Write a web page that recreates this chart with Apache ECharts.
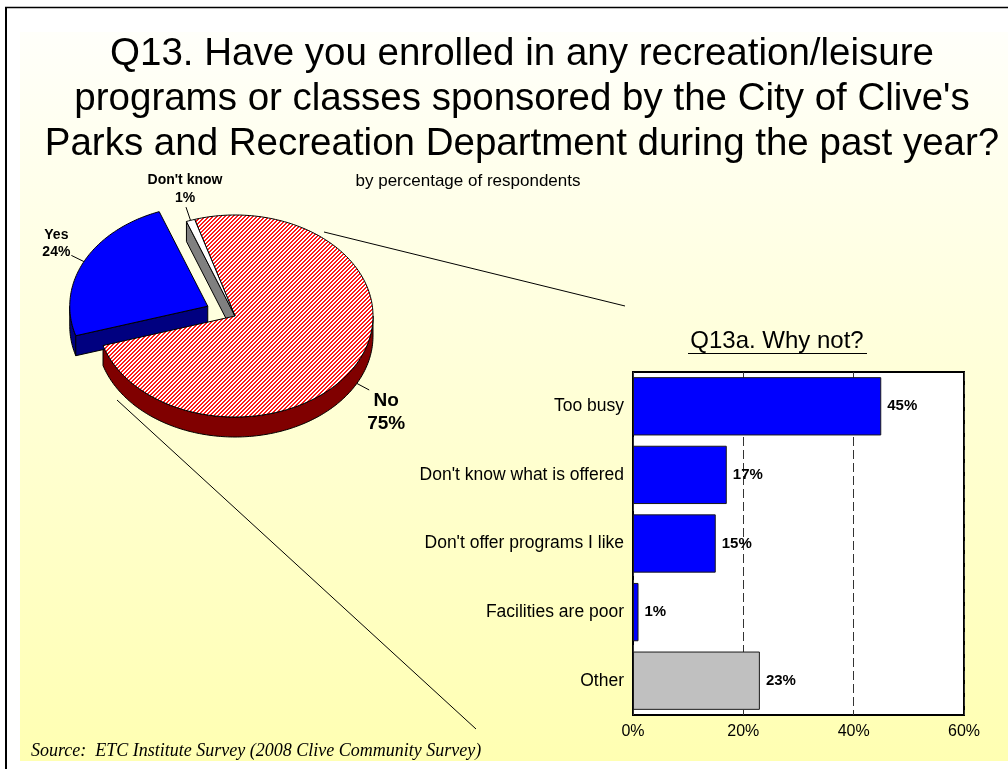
<!DOCTYPE html>
<html>
<head>
<meta charset="utf-8">
<script src="https://cdn.jsdelivr.net/npm/echarts@6/dist/echarts.min.js"></script>
<style>
  html, body { margin: 0; padding: 0; background: #ffffff; }
  #chart { width: 1008px; height: 769px; }
</style>
</head>
<body>
<div id="chart"></div>
<script>
// Q13: enrolled in a recreation program during the past year (% of respondents)
const pieLabels = ['No', 'Yes', "Don't know"];
const pieValues = [75, 24, 1];

// Q13a: reasons for not enrolling (% of respondents)
const reasonLabels = ['Too busy', "Don't know what is offered", "Don't offer programs I like", 'Facilities are poor', 'Other'];
const reasonValues = [45, 17, 15, 1, 23];

// Horizontal axis ticks (percent)
const axisTicks = [0, 20, 40, 60];

const SANS = 'Arial, "Liberation Sans", Helvetica, sans-serif';
const SERIF = '"Times New Roman", "Liberation Serif", serif';

// ---- 3D pie geometry (ellipse seen at a tilt, with a thickness) ----
const PIE = {
  cx: 235, cy: 316,      // centre of the top face
  rx: 138, ry: 101,      // ellipse radii of the top face
  depth: 20,             // thickness of the disc
  startDeg: -17,         // where the first slice begins, clockwise from 12 o'clock
  explode: [0, 0.22, 0]  // fraction of the radius each slice is pulled out
};
const pieStyle = [
  { top: null,      side: '#800000', font: 19, lineH: 23, shift: [17, 22] },  // No (hatched top)
  { top: '#0000ff', side: '#000080', font: 14, lineH: 17, shift: [-15, -12] }, // Yes
  { top: '#ffffff', side: '#808080', font: 14, lineH: 18, shift: [-1, -18] }   // Don't know
];

// Red diagonal hatching used on the "No" slice
function makeHatch() {
  const c = document.createElement('canvas');
  c.width = 4; c.height = 4;
  const g = c.getContext('2d');
  g.fillStyle = '#ffffff';
  g.fillRect(0, 0, 4, 4);
  g.fillStyle = '#ff1a1a';
  for (let x = 0; x < 4; x++) {
    for (let y = 0; y < 4; y++) {
      const k = (x + y) % 4;
      if (k === 0 || k === 1) g.fillRect(x, y, 1, 1);
    }
  }
  return c;
}
const hatchFill = { image: makeHatch(), repeat: 'repeat' };

// Slice angle ranges from the values
const pieTotal = pieValues.reduce((a, b) => a + b, 0);
const pieAngles = [];
(function () {
  let acc = PIE.startDeg;
  pieValues.forEach(v => {
    const s = acc;
    acc += v / pieTotal * 360;
    pieAngles.push([s, acc]);
  });
})();

function ellipsePt(cx, cy, deg, dy) {
  const r = deg * Math.PI / 180;
  return [cx + PIE.rx * Math.sin(r), cy - PIE.ry * Math.cos(r) + (dy || 0)];
}
function arcPts(cx, cy, a0, a1, dy) {
  const n = Math.max(2, Math.ceil(Math.abs(a1 - a0)));
  const out = [];
  for (let i = 0; i <= n; i++) out.push(ellipsePt(cx, cy, a0 + (a1 - a0) * i / n, dy));
  return out;
}

function renderSlice(params) {
  const i = params.dataIndex;
  const a0 = pieAngles[i][0], a1 = pieAngles[i][1];
  const mid = (a0 + a1) / 2;
  const m = mid * Math.PI / 180;
  const ex = PIE.explode[i];
  const cx = PIE.cx + PIE.rx * ex * Math.sin(m);
  const cy = PIE.cy - PIE.ry * ex * Math.cos(m);
  const D = PIE.depth;
  const st = pieStyle[i];
  const kids = [];
  const wallStyle = { fill: st.side, stroke: '#000', lineWidth: 1, lineJoin: 'round' };

  // Curved outer wall, only on the front half of the disc (90..270 deg)
  [-360, 0, 360].forEach(off => {
    const f0 = Math.max(a0, 90 + off), f1 = Math.min(a1, 270 + off);
    if (f1 > f0) {
      const topArc = arcPts(cx, cy, f0, f1, 0);
      const botArc = arcPts(cx, cy, f0, f1, D).reverse();
      kids.push({ type: 'polygon', z2: 1, shape: { points: topArc.concat(botArc) }, style: wallStyle });
    }
  });
  // Flat radial walls that face the viewer
  const rad = deg => Math.sin(deg * Math.PI / 180);
  if (rad(a0) < 0) {
    const p = ellipsePt(cx, cy, a0, 0);
    kids.push({ type: 'polygon', z2: 1, shape: { points: [[cx, cy], p, [p[0], p[1] + D], [cx, cy + D]] }, style: wallStyle });
  }
  if (rad(a1) > 0) {
    const p = ellipsePt(cx, cy, a1, 0);
    kids.push({ type: 'polygon', z2: 1, shape: { points: [[cx, cy], p, [p[0], p[1] + D], [cx, cy + D]] }, style: wallStyle });
  }
  // Top face
  kids.push({
    type: 'polygon', z2: 10,
    shape: { points: [[cx, cy]].concat(arcPts(cx, cy, a0, a1, 0)) },
    style: { fill: st.top || hatchFill, stroke: '#000', lineWidth: 1, lineJoin: 'round' }
  });

  // Leader line and label
  const front = Math.cos(m) < 0;
  const anchor = ellipsePt(cx, cy, mid, front ? D : 0);
  const ux = Math.sin(m), uy = -Math.cos(m);
  const end = [anchor[0] + ux * 14, anchor[1] + uy * 14];
  kids.push({ type: 'polyline', z2: 20, shape: { points: [anchor, end] }, style: { stroke: '#000', lineWidth: 1, fill: null } });
  kids.push({
    type: 'text', z2: 20,
    x: end[0] + st.shift[0], y: end[1] + st.shift[1],
    style: {
      text: pieLabels[i] + '\n' + pieValues[i] + '%',
      font: 'bold ' + st.font + 'px ' + SANS,
      lineHeight: st.lineH,
      fill: '#000',
      align: 'center',
      verticalAlign: 'middle'
    }
  });
  return { type: 'group', children: kids };
}

const barColors = reasonLabels.map((_, i) => i === reasonLabels.length - 1 ? '#c0c0c0' : '#0000ff');

const chart = echarts.init(document.getElementById('chart'), null, { renderer: 'canvas', width: 1008, height: 769 });

chart.setOption({
  animation: false,
  backgroundColor: '#ffffff',
  title: {
    text: "Q13. Have you enrolled in any recreation/leisure\nprograms or classes sponsored by the City of Clive's\nParks and Recreation Department during the past year?",
    left: 522, top: 32, textAlign: 'center', padding: 0,
    textStyle: { fontFamily: SANS, fontSize: 38.5, fontWeight: 'normal', lineHeight: 45, color: '#000' }
  },
  graphic: [
    // slide background with a soft yellow gradient
    {
      type: 'rect', z: -10, silent: true,
      shape: { x: 20, y: 32, width: 1000, height: 729 },
      style: {
        fill: new echarts.graphic.LinearGradient(0, 0, 0, 1, [
          { offset: 0, color: '#fffffa' },
          { offset: 1, color: '#ffffb2' }
        ])
      }
    },
    // slide frame
    { type: 'line', z: 50, silent: true, shape: { x1: 6, y1: 7, x2: 6, y2: 769 }, style: { stroke: '#000', lineWidth: 2 } },
    { type: 'line', z: 50, silent: true, shape: { x1: 5, y1: 7.5, x2: 1008, y2: 7.5 }, style: { stroke: '#000', lineWidth: 1.5 } },
    // subtitle
    {
      type: 'text', z: 50, x: 468, y: 181,
      style: { text: 'by percentage of respondents', font: '17px ' + SANS, fill: '#000', align: 'center', verticalAlign: 'middle' }
    },
    // callout lines from the "No" slice to the breakdown
    { type: 'line', z: 50, silent: true, shape: { x1: 324, y1: 232, x2: 625, y2: 306 }, style: { stroke: '#000', lineWidth: 1 } },
    { type: 'line', z: 50, silent: true, shape: { x1: 117, y1: 400, x2: 476, y2: 729 }, style: { stroke: '#000', lineWidth: 1 } },
    // breakdown heading, underlined
    {
      type: 'text', z: 50, x: 777, y: 341,
      style: { text: 'Q13a. Why not?', font: '24px ' + SANS, fill: '#000', align: 'center', verticalAlign: 'middle' }
    },
    { type: 'line', z: 50, silent: true, shape: { x1: 688, y1: 353.5, x2: 867, y2: 353.5 }, style: { stroke: '#000', lineWidth: 1 } },
    // source note
    {
      type: 'text', z: 50, x: 31, y: 751,
      style: { text: 'Source:  ETC Institute Survey (2008 Clive Community Survey)', font: 'italic 18px ' + SERIF, fill: '#000', align: 'left', verticalAlign: 'middle' }
    }
  ],
  grid: {
    left: 633, top: 372, width: 331, height: 343,
    show: true, backgroundColor: '#ffffff', borderColor: '#000', borderWidth: 2,
    containLabel: false, outerBoundsMode: 'none'
  },
  xAxis: {
    type: 'value',
    min: axisTicks[0], max: axisTicks[axisTicks.length - 1], interval: axisTicks[1] - axisTicks[0],
    axisLine: { show: false }, axisTick: { show: false },
    axisLabel: { formatter: '{value}%', fontFamily: SANS, fontSize: 16, color: '#000', margin: 9 },
    splitLine: { show: true, lineStyle: { type: [9, 4], color: '#333', width: 1 } }
  },
  yAxis: {
    type: 'category', data: reasonLabels, inverse: true,
    axisLine: { show: false }, axisTick: { show: false },
    axisLabel: { fontFamily: SANS, fontSize: 17.5, color: '#000', margin: 9 }
  },
  series: [
    {
      type: 'bar',
      data: reasonValues.map((v, i) => ({ value: v, itemStyle: { color: barColors[i] } })),
      barCategoryGap: '15%',
      itemStyle: { borderColor: '#1a1a1a', borderWidth: 1 },
      label: {
        show: true, position: 'right', distance: 6, formatter: '{c}%',
        fontFamily: SANS, fontSize: 15, fontWeight: 'bold', color: '#000'
      },
      silent: true
    },
    {
      type: 'custom',
      coordinateSystem: 'none',
      silent: true,
      data: pieValues.map((v, i) => ({ name: pieLabels[i], value: v })),
      renderItem: renderSlice
    }
  ]
});
</script>
</body>
</html>
